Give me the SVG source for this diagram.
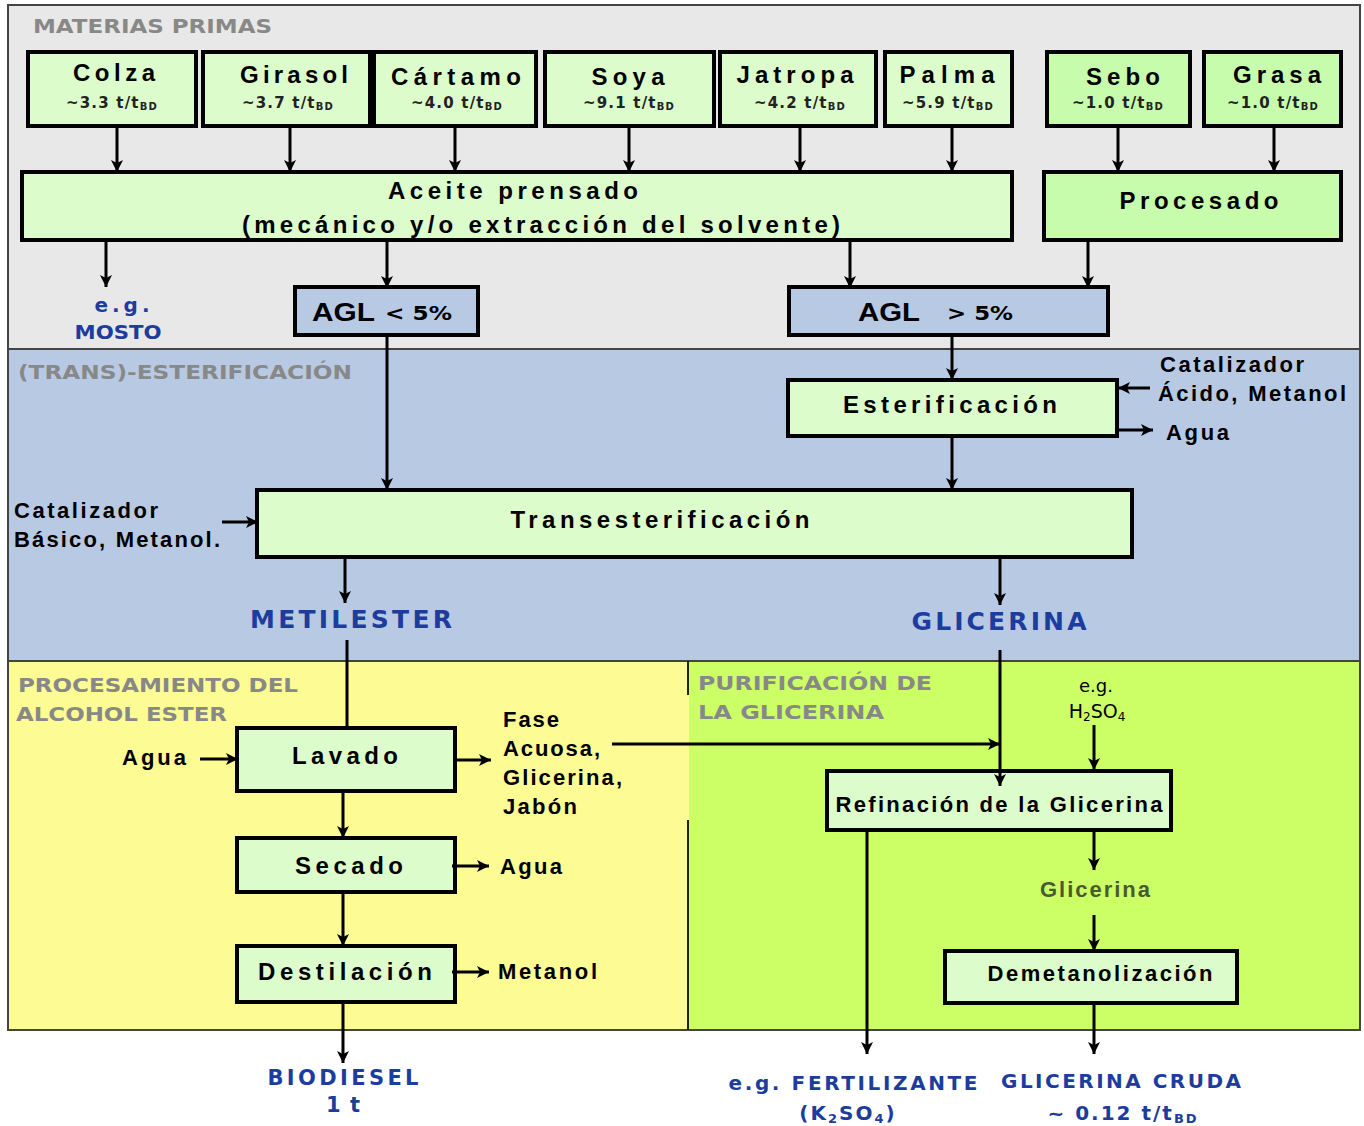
<svg xmlns="http://www.w3.org/2000/svg" width="1364" height="1126" viewBox="0 0 1364 1126">
<style>
text{font-family:"Liberation Sans",Arial,sans-serif;font-weight:bold;fill:#000}
.dv{font-family:"DejaVu Sans",Verdana,sans-serif}
.box{fill:#dcfccc;stroke:#000;stroke-width:4}
.box2{fill:#c6fcac;stroke:#000;stroke-width:4}
.agl{fill:#b8c9e3;stroke:#000;stroke-width:4}
.name{font-size:24px;text-anchor:middle}
.qty{font-family:"DejaVu Sans",Verdana,sans-serif;font-size:15px;text-anchor:middle;fill:#222;letter-spacing:1.2px}
.sub{font-size:10px}
.title{font-family:"DejaVu Sans",Verdana,sans-serif;font-size:19px;fill:#888}
.blue{font-family:"DejaVu Sans",Verdana,sans-serif;fill:#1c3c9e;text-anchor:middle}
.lbl{font-size:22px}
.c{text-anchor:middle}
.conn line{stroke:#000;stroke-width:3}
</style>
<defs>
<marker id="ah" markerUnits="userSpaceOnUse" markerWidth="14" markerHeight="14" viewBox="0 0 14 14" refX="13" refY="7" orient="auto">
<path d="M1,1 L13,7 L1,13 L4,7 Z" fill="#000"/>
</marker>
</defs>

<!-- background regions -->
<g id="regions">
<rect x="0" y="0" width="1364" height="1126" fill="#fff"/>
<rect x="8" y="5" width="1352" height="344" fill="#e8e8e8"/>
<rect x="8" y="349" width="1352" height="312" fill="#b8c9e3"/>
<rect x="8" y="661" width="681" height="369" fill="#fdfb94"/>
<rect x="689" y="661" width="671" height="369" fill="#ccff66"/>
<rect x="8" y="5" width="1352" height="1025" fill="none" stroke="#444" stroke-width="2"/>
<line x1="8" y1="349" x2="1360" y2="349" stroke="#444" stroke-width="2"/>
<line x1="8" y1="661" x2="1360" y2="661" stroke="#444" stroke-width="2"/>
<line x1="688" y1="661" x2="688" y2="695" stroke="#222" stroke-width="2"/>
<line x1="688" y1="820" x2="688" y2="1030" stroke="#222" stroke-width="2"/>
</g>

<!-- section titles -->
<g id="titles">
<text class="title" x="33" y="33" textLength="239" lengthAdjust="spacingAndGlyphs">MATERIAS PRIMAS</text>
<text class="title" x="18" y="379" textLength="334" lengthAdjust="spacingAndGlyphs">(TRANS)-ESTERIFICACIÓN</text>
<text class="title" x="18" y="692" textLength="280" lengthAdjust="spacingAndGlyphs">PROCESAMIENTO  DEL</text>
<text class="title" x="16" y="721" textLength="211" lengthAdjust="spacingAndGlyphs">ALCOHOL ESTER</text>
<text class="title" x="698" y="690" textLength="234" lengthAdjust="spacingAndGlyphs">PURIFICACIÓN DE</text>
<text class="title" x="698" y="719" textLength="186" lengthAdjust="spacingAndGlyphs">LA GLICERINA</text>
</g>

<!-- raw materials -->
<g id="colza"><rect class="box" x="28" y="52" width="168" height="74"/>
<text class="name" x="114" y="81" textLength="82" lengthAdjust="spacing">Colza</text>
<text class="qty" x="112" y="108">~3.3 t/t<tspan class="sub" dy="2">BD</tspan></text></g>
<g id="girasol"><rect class="box" x="203" y="52" width="167" height="74"/>
<text class="name" x="294" y="83" textLength="108" lengthAdjust="spacing">Girasol</text>
<text class="qty" x="288" y="108">~3.7 t/t<tspan class="sub" dy="2">BD</tspan></text></g>
<g id="cartamo"><rect class="box" x="374" y="52" width="162" height="74"/>
<text class="name" x="456" y="85" textLength="130" lengthAdjust="spacing">Cártamo</text>
<text class="qty" x="457" y="108">~4.0 t/t<tspan class="sub" dy="2">BD</tspan></text></g>
<g id="soya"><rect class="box" x="545" y="52" width="169" height="74"/>
<text class="name" x="628" y="85" textLength="73" lengthAdjust="spacing">Soya</text>
<text class="qty" x="629" y="108">~9.1 t/t<tspan class="sub" dy="2">BD</tspan></text></g>
<g id="jatropa"><rect class="box" x="720" y="52" width="156" height="74"/>
<text class="name" x="795" y="83" textLength="117" lengthAdjust="spacing">Jatropa</text>
<text class="qty" x="800" y="108">~4.2 t/t<tspan class="sub" dy="2">BD</tspan></text></g>
<g id="palma"><rect class="box" x="885" y="52" width="127" height="74"/>
<text class="name" x="947" y="83" textLength="95" lengthAdjust="spacing">Palma</text>
<text class="qty" x="948" y="108">~5.9 t/t<tspan class="sub" dy="2">BD</tspan></text></g>
<g id="sebo"><rect class="box2" x="1047" y="52" width="143" height="74"/>
<text class="name" x="1123" y="85" textLength="74" lengthAdjust="spacing">Sebo</text>
<text class="qty" x="1118" y="108">~1.0 t/t<tspan class="sub" dy="2">BD</tspan></text></g>
<g id="grasa"><rect class="box2" x="1204" y="52" width="137" height="74"/>
<text class="name" x="1277" y="83" textLength="88" lengthAdjust="spacing">Grasa</text>
<text class="qty" x="1273" y="108">~1.0 t/t<tspan class="sub" dy="2">BD</tspan></text></g>

<!-- pressing -->
<g id="aceite"><rect class="box" x="22" y="172" width="990" height="68"/>
<text class="name" x="513" y="199" textLength="250" lengthAdjust="spacing">Aceite prensado</text>
<text class="name" x="541" y="233" textLength="598" lengthAdjust="spacing">(mecánico y/o extracción del solvente)</text></g>
<g id="procesado"><rect class="box2" x="1044" y="172" width="297" height="68"/>
<text class="name" x="1199" y="209" textLength="159" lengthAdjust="spacing">Procesado</text></g>

<g id="mosto">
<text class="blue" x="122" y="312" font-size="20" textLength="55" lengthAdjust="spacing">e.g.</text>
<text class="blue" x="118" y="339" font-size="19" textLength="87" lengthAdjust="spacingAndGlyphs">MOSTO</text></g>

<g id="agl1"><rect class="agl" x="295" y="287" width="183" height="48"/>
<text x="312" y="321" font-size="26" textLength="63" lengthAdjust="spacingAndGlyphs">AGL</text>
<text class="dv" x="385" y="320" font-size="19" fill="#222" textLength="67" lengthAdjust="spacingAndGlyphs">&lt; 5%</text></g>
<g id="agl2"><rect class="agl" x="789" y="287" width="319" height="48"/>
<text x="858" y="321" font-size="26" textLength="62" lengthAdjust="spacingAndGlyphs">AGL</text>
<text class="dv" x="947" y="320" font-size="19" fill="#222" textLength="66" lengthAdjust="spacingAndGlyphs">&gt; 5%</text></g>

<!-- esterification -->
<g id="esterificacion"><rect class="box" x="788" y="380" width="329" height="56"/>
<text class="name" x="950" y="413" textLength="214" lengthAdjust="spacing">Esterificación</text></g>
<g id="cat-acido">
<text class="lbl" x="1160" y="372" textLength="144" lengthAdjust="spacing">Catalizador</text>
<text class="lbl" x="1158" y="401" textLength="188" lengthAdjust="spacing">Ácido, Metanol</text>
<text class="lbl" x="1166" y="440" textLength="63" lengthAdjust="spacing">Agua</text></g>

<g id="transesterificacion"><rect class="box" x="257" y="490" width="875" height="67"/>
<text class="name" x="660" y="528" textLength="299" lengthAdjust="spacing">Transesterificación</text></g>
<g id="cat-basico">
<text class="lbl" x="14" y="518" textLength="144" lengthAdjust="spacing">Catalizador</text>
<text class="lbl" x="14" y="547" textLength="206" lengthAdjust="spacing">Básico, Metanol.</text></g>

<g id="metilester"><text class="blue" x="351" y="628" font-size="25" textLength="202" lengthAdjust="spacing">METILESTER</text></g>
<g id="glicerina"><text class="blue" x="999" y="630" font-size="25" textLength="175" lengthAdjust="spacing">GLICERINA</text></g>

<!-- alcohol ester processing -->
<g id="lavado"><rect class="box" x="237" y="728" width="218" height="63"/>
<text class="name" x="345" y="764" textLength="106" lengthAdjust="spacing">Lavado</text></g>
<g id="agua-in"><text class="lbl" x="122" y="765" textLength="64" lengthAdjust="spacing">Agua</text></g>
<g id="fase">
<text class="lbl" x="503" y="727" textLength="56" lengthAdjust="spacing">Fase</text>
<text class="lbl" x="503" y="756" textLength="97" lengthAdjust="spacing">Acuosa,</text>
<text class="lbl" x="503" y="785" textLength="119" lengthAdjust="spacing">Glicerina,</text>
<text class="lbl" x="503" y="814" textLength="74" lengthAdjust="spacing">Jabón</text></g>
<g id="secado"><rect class="box" x="237" y="838" width="218" height="54"/>
<text class="name" x="349" y="874" textLength="108" lengthAdjust="spacing">Secado</text></g>
<g id="agua-out"><text class="lbl" x="500" y="874" textLength="62" lengthAdjust="spacing">Agua</text></g>
<g id="destilacion"><rect class="box" x="237" y="946" width="218" height="56"/>
<text class="name" x="345" y="980" textLength="174" lengthAdjust="spacing">Destilación</text></g>
<g id="metanol-out"><text class="lbl" x="498" y="979" textLength="99" lengthAdjust="spacing">Metanol</text></g>
<g id="biodiesel">
<text class="blue" x="343" y="1085" font-size="21" textLength="151" lengthAdjust="spacing">BIODIESEL</text>
<text class="blue" x="343" y="1112" font-size="21" textLength="34" lengthAdjust="spacing">1 t</text></g>

<!-- glycerine purification -->
<g id="h2so4">
<text class="dv" x="1096" y="692" font-size="18" fill="#222" text-anchor="middle" style="font-weight:normal">e.g.</text>
<text class="dv" x="1097" y="718" font-size="19" fill="#222" text-anchor="middle" style="font-weight:normal">H<tspan font-size="12" dy="3">2</tspan><tspan dy="-3">SO</tspan><tspan font-size="12" dy="3">4</tspan></text></g>
<g id="refinacion"><rect class="box" x="827" y="771" width="344" height="59"/>
<text class="lbl c" x="999" y="812" textLength="327" lengthAdjust="spacing">Refinación de la Glicerina</text></g>
<g id="glicerina-mid"><text class="lbl c" x="1095" y="897" style="fill:#4a5a30" textLength="110" lengthAdjust="spacing">Glicerina</text></g>
<g id="demetanolizacion"><rect class="box" x="945" y="951" width="292" height="52"/>
<text class="lbl c" x="1100" y="981" textLength="225" lengthAdjust="spacing">Demetanolización</text></g>
<g id="fertilizante">
<text class="blue" x="853" y="1090" font-size="20" textLength="249" lengthAdjust="spacing">e.g. FERTILIZANTE</text>
<text class="blue" x="848" y="1120" font-size="20" letter-spacing="2">(K<tspan font-size="13" dy="3">2</tspan><tspan dy="-3">SO</tspan><tspan font-size="13" dy="3">4</tspan><tspan dy="-3">)</tspan></text></g>
<g id="glicerina-cruda">
<text class="blue" x="1121" y="1088" font-size="20" textLength="240" lengthAdjust="spacing">GLICERINA CRUDA</text>
<text class="blue" x="1123" y="1120" font-size="20" letter-spacing="2">~ 0.12 t/t<tspan font-size="13" dy="3">BD</tspan></text></g>

<!-- connectors -->
<g class="conn" id="connectors">
<line x1="117" y1="126" x2="117" y2="172" marker-end="url(#ah)"/>
<line x1="290" y1="126" x2="290" y2="172" marker-end="url(#ah)"/>
<line x1="455" y1="126" x2="455" y2="172" marker-end="url(#ah)"/>
<line x1="629" y1="126" x2="629" y2="172" marker-end="url(#ah)"/>
<line x1="800" y1="126" x2="800" y2="172" marker-end="url(#ah)"/>
<line x1="952" y1="126" x2="952" y2="172" marker-end="url(#ah)"/>
<line x1="1118" y1="126" x2="1118" y2="172" marker-end="url(#ah)"/>
<line x1="1274" y1="126" x2="1274" y2="172" marker-end="url(#ah)"/>
<line x1="106" y1="240" x2="106" y2="287" marker-end="url(#ah)"/>
<line x1="387" y1="240" x2="387" y2="288" marker-end="url(#ah)"/>
<line x1="850" y1="240" x2="850" y2="288" marker-end="url(#ah)"/>
<line x1="1088" y1="240" x2="1088" y2="288" marker-end="url(#ah)"/>
<line x1="387" y1="335" x2="387" y2="490" marker-end="url(#ah)"/>
<line x1="952" y1="335" x2="952" y2="380" marker-end="url(#ah)"/>
<line x1="1150" y1="388" x2="1118" y2="388" marker-end="url(#ah)"/>
<line x1="1117" y1="430" x2="1153" y2="430" marker-end="url(#ah)"/>
<line x1="952" y1="436" x2="952" y2="490" marker-end="url(#ah)"/>
<line x1="222" y1="522" x2="258" y2="522" marker-end="url(#ah)"/>
<line x1="345" y1="557" x2="345" y2="603" marker-end="url(#ah)"/>
<line x1="1000" y1="557" x2="1000" y2="605" marker-end="url(#ah)"/>
<line x1="347" y1="640" x2="347" y2="728"/>
<line x1="1000" y1="650" x2="1000" y2="786" marker-end="url(#ah)"/>
<line x1="612" y1="744" x2="1000" y2="744" marker-end="url(#ah)"/>
<line x1="1094" y1="725" x2="1094" y2="770" marker-end="url(#ah)"/>
<line x1="200" y1="759" x2="238" y2="759" marker-end="url(#ah)"/>
<line x1="455" y1="760" x2="491" y2="760" marker-end="url(#ah)"/>
<line x1="343" y1="791" x2="343" y2="838" marker-end="url(#ah)"/>
<line x1="452" y1="866" x2="489" y2="866" marker-end="url(#ah)"/>
<line x1="343" y1="892" x2="343" y2="946" marker-end="url(#ah)"/>
<line x1="452" y1="972" x2="489" y2="972" marker-end="url(#ah)"/>
<line x1="343" y1="1002" x2="343" y2="1063" marker-end="url(#ah)"/>
<line x1="867" y1="830" x2="867" y2="1054" marker-end="url(#ah)"/>
<line x1="1094" y1="830" x2="1094" y2="870" marker-end="url(#ah)"/>
<line x1="1094" y1="915" x2="1094" y2="951" marker-end="url(#ah)"/>
<line x1="1094" y1="1003" x2="1094" y2="1054" marker-end="url(#ah)"/>
</g>
</svg>
